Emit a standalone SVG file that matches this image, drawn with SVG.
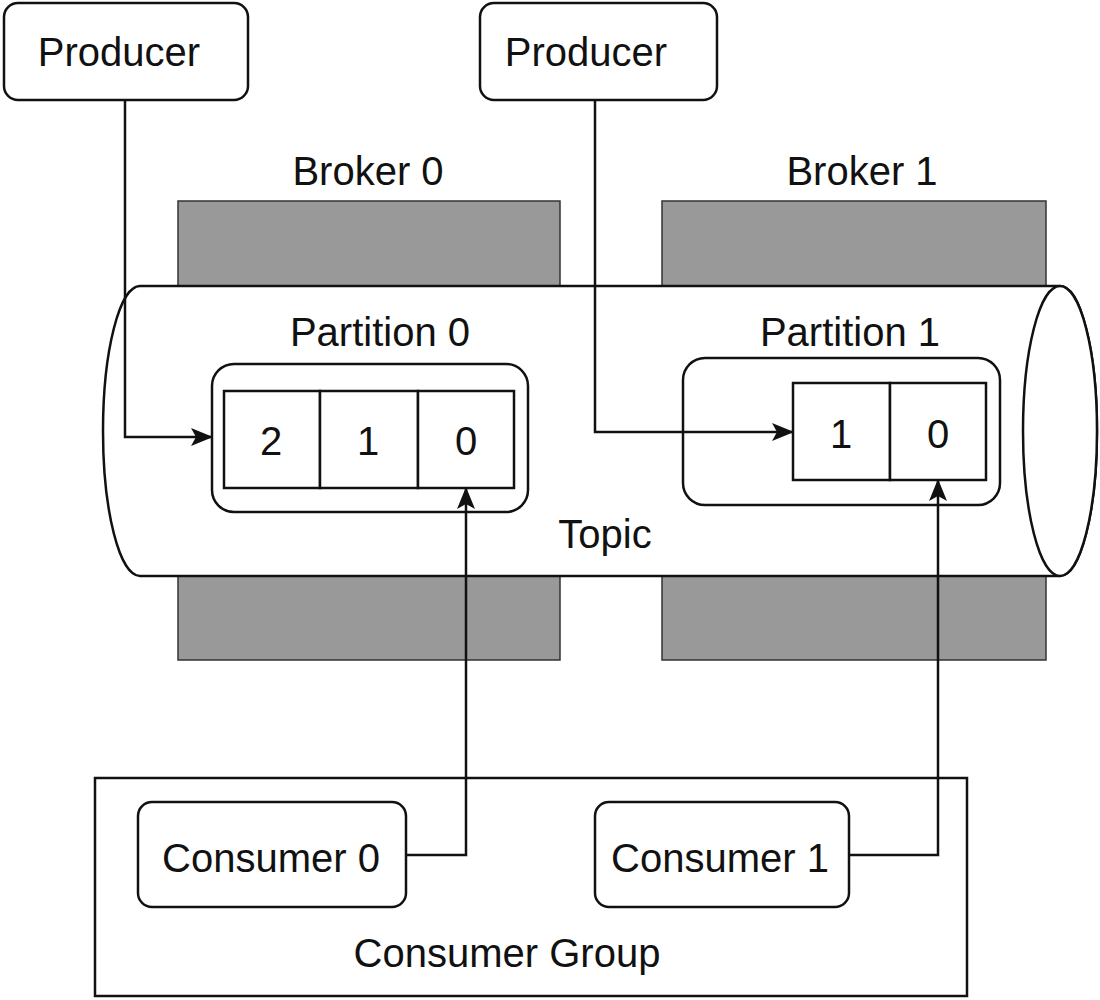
<svg xmlns="http://www.w3.org/2000/svg" width="1100" height="1000" viewBox="0 0 1100 1000">
<style>
text{font-family:"Liberation Sans",Arial,sans-serif;font-size:40px;fill:#111;text-anchor:middle}
.box{fill:#fff;stroke:#111;stroke-width:2.5}
.broker{fill:#999;stroke:#333;stroke-width:1.5}
.line{fill:none;stroke:#111;stroke-width:2.5}
</style>
<defs>
<marker id="arr" viewBox="0 0 22 18" refX="21" refY="9" markerWidth="22" markerHeight="18" markerUnits="userSpaceOnUse" orient="auto">
<path d="M0,0 L22,9 L0,18 L5,9 Z" fill="#111"/>
</marker>
</defs>
<g id="broker0"><rect class="broker" x="178" y="201" width="382" height="459"/><text x="368" y="185">Broker 0</text></g>
<g id="broker1"><rect class="broker" x="662" y="201" width="384" height="459"/><text x="862" y="185">Broker 1</text></g>
<g id="topic">
<path class="box" d="M140,286 L1060,286 A37,145 0 0 1 1060,576 L140,576 A37,145 0 0 1 140,286 Z"/>
<ellipse class="box" cx="1060" cy="431" rx="37" ry="145"/>
<text x="605" y="548">Topic</text>
</g>
<g id="partition0">
<text x="380" y="346">Partition 0</text>
<rect class="box" x="212" y="364" width="316" height="148" rx="22"/>
<rect class="box" x="224" y="391" width="96" height="97"/>
<rect class="box" x="320" y="391" width="98" height="97"/>
<rect class="box" x="418" y="391" width="96" height="97"/>
<text x="271" y="455">2</text><text x="368" y="455">1</text><text x="466" y="455">0</text>
</g>
<g id="partition1">
<text x="850" y="346">Partition 1</text>
<rect class="box" x="683" y="358" width="317" height="147" rx="22"/>
<rect class="box" x="793" y="383" width="97" height="97"/>
<rect class="box" x="890" y="383" width="96" height="97"/>
<text x="841" y="448">1</text><text x="938" y="448">0</text>
</g>
<g id="producer0"><rect class="box" x="4" y="3" width="244" height="97" rx="14"/><text x="119" y="66">Producer</text></g>
<g id="producer1"><rect class="box" x="480" y="3" width="237" height="97" rx="14"/><text x="586" y="66">Producer</text></g>
<g id="consumergroup"><rect class="box" x="95" y="778" width="872" height="218"/><text x="507" y="967">Consumer Group</text></g>
<g id="consumer0"><rect class="box" x="138" y="802" width="268" height="105" rx="14"/><text x="271" y="872">Consumer 0</text></g>
<g id="consumer1"><rect class="box" x="595" y="802" width="254" height="105" rx="14"/><text x="720" y="872">Consumer 1</text></g>
<g id="connectors">
<path class="line" d="M125,100 V437 H212" marker-end="url(#arr)"/>
<path class="line" d="M595,100 V432 H793" marker-end="url(#arr)"/>
<path class="line" d="M406,855 H466 V488" marker-end="url(#arr)"/>
<path class="line" d="M849,855 H938 V480" marker-end="url(#arr)"/>
</g>
</svg>
